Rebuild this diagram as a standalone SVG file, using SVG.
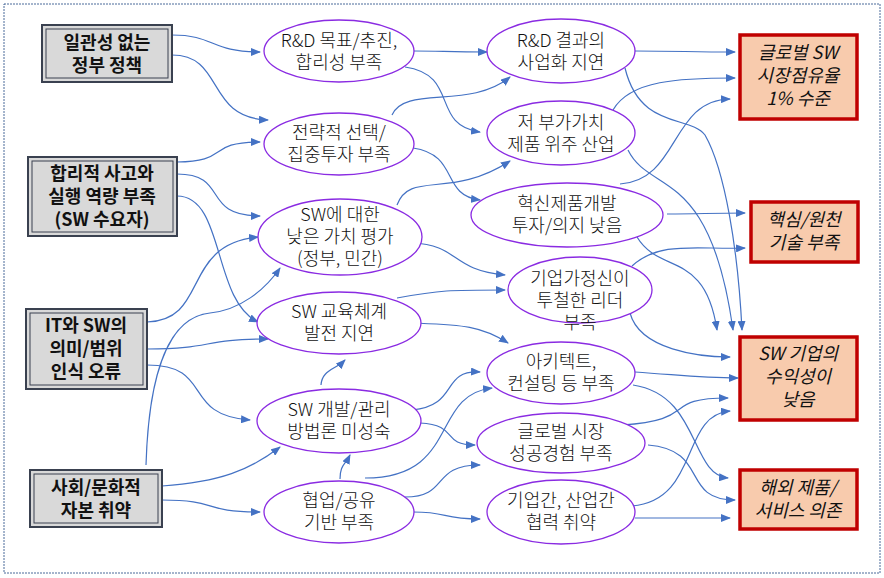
<svg xmlns="http://www.w3.org/2000/svg" width="884" height="578" viewBox="0 0 884 578">
<style>
text{font-family:"Noto Sans CJK KR","Noto Sans",sans-serif;font-size:18px;fill:#111;text-anchor:middle;font-weight:300}
.src rect.o{fill:#d9d9d9;stroke:#3a4150;stroke-width:2}
.src rect.i{fill:none;stroke:#3a4150;stroke-width:1}
.src text{font-weight:bold;font-size:18px}
ellipse{fill:#fff;stroke:#8a2be2;stroke-width:1.3}
.out rect{fill:#f8cbad;stroke:#c00000;stroke-width:3.5}
.out text{font-style:italic;font-weight:400}
#connectors path{fill:none;stroke:#4472c4;stroke-width:1.2;marker-end:url(#ah)}
</style>
<defs><marker id="ah" markerWidth="10" markerHeight="8" refX="9" refY="4" orient="auto" markerUnits="userSpaceOnUse"><path d="M0,0 L10,4 L0,8z" fill="#4472c4"/></marker></defs>
<rect x="4" y="4" width="876" height="569" fill="#fff" stroke="#4a6a9a" stroke-dasharray="2,1"/>
<g id="connectors">
<path d="M172,35 C215,35 210,52 260,52"/>
<path d="M172,55 C225,55 205,118 268,120"/>
<path d="M177,162 C230,162 205,142 260,142"/>
<path d="M177,174 C230,174 200,216 260,216"/>
<path d="M177,196 C225,196 212,300 258,322"/>
<path d="M147,322 C210,320 180,245 258,237"/>
<path d="M147,349 C215,349 200,339 268,339"/>
<path d="M147,365 C215,365 180,415 250,420"/>
<path d="M162,486 C220,482 250,470 280,447"/>
<path d="M162,500 C220,500 200,512 260,512"/>
<path d="M146,465 C150,330 190,315 210,313 C240,310 265,290 280,268"/>
<path d="M321,385 C322,370 335,370 345,360"/>
<path d="M340,479 C340,465 345,465 350,455"/>
<path d="M414,51 C440,51 450,52 487,52"/>
<path d="M405,67 C460,75 430,125 480,132"/>
<path d="M392,115 C405,85 470,110 510,77"/>
<path d="M413,148 C460,155 440,195 480,200"/>
<path d="M397,205 C410,170 450,200 510,161"/>
<path d="M412,243 C460,245 450,270 505,275"/>
<path d="M397,298 C440,290 450,290 505,290"/>
<path d="M413,323 C460,325 480,325 508,343"/>
<path d="M412,410 C460,405 440,370 480,372"/>
<path d="M420,423 C460,425 440,445 475,445"/>
<path d="M365,478 C460,478 430,395 492,388"/>
<path d="M405,497 C450,497 430,465 480,465"/>
<path d="M413,512 C450,512 440,519 480,519"/>
<path d="M635,51 C680,51 690,52 735,52"/>
<path d="M625,68 C640,130 690,115 705,135 C725,170 738,250 742,330"/>
<path d="M613,110 C630,80 680,78 735,78"/>
<path d="M628,150 C650,195 710,165 733,330"/>
<path d="M620,184 C680,180 670,100 730,99"/>
<path d="M667,214 C700,214 710,213 745,213"/>
<path d="M637,237 C660,275 705,250 717,330"/>
<path d="M632,266 C660,240 700,250 745,248"/>
<path d="M630,313 C640,350 700,357 730,357"/>
<path d="M635,372 C680,375 700,378 738,378"/>
<path d="M633,385 C700,395 690,475 728,478"/>
<path d="M622,425 C700,420 660,398 728,398"/>
<path d="M648,445 C710,450 680,500 735,500"/>
<path d="M632,506 C700,500 680,415 730,411"/>
<path d="M635,518 C680,518 690,518 730,518"/>
</g>
<g id="s1" class="src"><rect class="o" x="42" y="25" width="130" height="57"/><rect class="i" x="46" y="29" width="122" height="49"/><text x="107" y="49">일관성 없는</text><text x="107" y="72">정부 정책</text></g>
<g id="s2" class="src"><rect class="o" x="28" y="157" width="149" height="79"/><rect class="i" x="32" y="161" width="141" height="71"/><text x="102" y="180">합리적 사고와</text><text x="102" y="203">실행 역량 부족</text><text x="102" y="226">(SW 수요자)</text></g>
<g id="s3" class="src"><rect class="o" x="26" y="309" width="121" height="80"/><rect class="i" x="30" y="313" width="113" height="72"/><text x="86" y="332">IT와 SW의</text><text x="86" y="355">의미/범위</text><text x="86" y="378">인식 오류</text></g>
<g id="s4" class="src"><rect class="o" x="30" y="470" width="132" height="57"/><rect class="i" x="34" y="474" width="124" height="49"/><text x="96" y="494">사회/문화적</text><text x="96" y="517">자본 취약</text></g>
<g id="e1"><ellipse cx="339" cy="51" rx="75" ry="31"/><text x="339" y="47">R&amp;D 목표/추진,</text><text x="339" y="69">합리성 부족</text></g>
<g id="e2"><ellipse cx="339" cy="144" rx="75" ry="31"/><text x="339" y="139">전략적 선택/</text><text x="339" y="161">집중투자 부족</text></g>
<g id="e3"><ellipse cx="340" cy="237" rx="82" ry="38"/><text x="340" y="221">SW에 대한</text><text x="340" y="243">낮은 가치 평가</text><text x="340" y="265">(정부, 민간)</text></g>
<g id="e4"><ellipse cx="339" cy="323" rx="82" ry="31"/><text x="339" y="318">SW 교육체계</text><text x="339" y="340">발전 지연</text></g>
<g id="e5"><ellipse cx="339" cy="421" rx="82" ry="32"/><text x="339" y="416">SW 개발/관리</text><text x="339" y="438">방법론 미성숙</text></g>
<g id="e6"><ellipse cx="339" cy="512" rx="75" ry="31"/><text x="339" y="507">협업/공유</text><text x="339" y="529">기반 부족</text></g>
<g id="f1"><ellipse cx="561" cy="51" rx="74" ry="32"/><text x="561" y="47">R&amp;D 결과의</text><text x="561" y="69">사업화 지연</text></g>
<g id="f2"><ellipse cx="561" cy="133" rx="74" ry="32"/><text x="561" y="129">저 부가가치</text><text x="561" y="151">제품 위주 산업</text></g>
<g id="f3"><ellipse cx="567" cy="215" rx="96" ry="32"/><text x="567" y="210">혁신제품개발</text><text x="567" y="232">투자/의지 낮음</text></g>
<g id="f4"><ellipse cx="580" cy="290" rx="72" ry="33"/><text x="580" y="285">기업가정신이</text><text x="580" y="307">투철한 리더</text><text x="580" y="329">부족</text></g>
<g id="f5"><ellipse cx="561" cy="373" rx="74" ry="31"/><text x="561" y="368">아키텍트,</text><text x="561" y="390">컨설팅 등 부족</text></g>
<g id="f6"><ellipse cx="561" cy="443" rx="84" ry="30"/><text x="561" y="438">글로벌 시장</text><text x="561" y="460">성공경험 부족</text></g>
<g id="f7"><ellipse cx="561" cy="512" rx="74" ry="32"/><text x="561" y="507">기업간, 산업간</text><text x="561" y="529">협력 취약</text></g>
<g id="r1" class="out"><rect x="740" y="35" width="117" height="84"/><text x="798" y="59">글로벌 SW</text><text x="798" y="82">시장점유율</text><text x="798" y="105">1% 수준</text></g>
<g id="r2" class="out"><rect x="751" y="202" width="107" height="60"/><text x="804" y="226">핵심/원천</text><text x="804" y="249">기술 부족</text></g>
<g id="r3" class="out"><rect x="740" y="337" width="117" height="83"/><text x="798" y="360">SW 기업의</text><text x="798" y="383">수익성이</text><text x="798" y="406">낮음</text></g>
<g id="r4" class="out"><rect x="740" y="470" width="117" height="59"/><text x="798" y="494">해외 제품/</text><text x="798" y="517">서비스 의존</text></g>
</svg>
